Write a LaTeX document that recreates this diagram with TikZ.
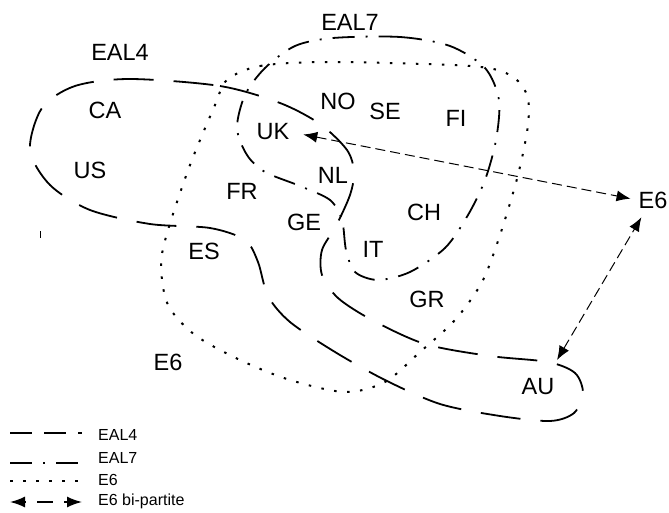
\documentclass[tikz,border=0pt]{standalone}
\usepackage{fontspec}
\setmainfont{Liberation Sans}
\usetikzlibrary{arrows.meta}

\begin{document}
\begin{tikzpicture}[x=1pt, y=-1pt,
    eal4/.style={line width=1.8pt, dash pattern=on 40pt off 20pt},
    eal7/.style={line width=1.8pt, dash pattern=on 22pt off 11pt on 2pt off 11pt},
    e6/.style={line width=2pt, dash pattern=on 2.5pt off 10.5pt},
    bip/.style={<->, >={Latex[length=14pt,width=11pt]}, line width=1pt, dash pattern=on 10pt off 5pt},
    lbl/.style={font=\fontsize{23.5}{26}\selectfont, inner sep=1pt},
    leg/.style={font=\fontsize{16}{18}\selectfont, anchor=west, inner sep=0pt}]
    \useasboundingbox (0,0) rectangle (669,513);

    % EAL4 region (two lobes joined round to AU)
    \draw[eal4] plot[smooth cycle] coordinates {
        (130,79) (220,86) (280,103) (320,124) (347,150) (354,172) (350,195)
        (336,226) (322,250) (322,275) (338,298) (372,320) (425,344) (490,356)
        (548,362) (575,373) (583,393) (574,413) (550,421) (500,416) (440,404)
        (385,380) (335,352) (290,322) (268,296) (258,262) (245,240) (210,228)
        (150,224) (90,210) (50,185) (30,150) (42,108) (75,86)};

    % EAL7 region
    \draw[eal7] plot[smooth cycle] coordinates {
        (333,38) (400,37) (450,46) (485,68) (499,100) (496,140) (485,180)
        (468,215) (445,248) (410,272) (378,280) (355,272) (346,250) (342,220)
        (330,200) (300,186) (265,172) (247,155) (237,128) (245,95) (265,68) (295,46)};

    % E6 region
    \draw[e6] plot[smooth cycle] coordinates {
        (227,80) (260,66) (330,62) (470,66) (510,75) (527,95) (528,125)
        (518,175) (500,235) (482,282) (455,320) (420,352) (385,382) (345,392)
        (290,380) (240,360) (195,335) (168,305) (161,265) (168,230) (190,165) (215,105)};

    \draw[line width=1pt] (40,231) -- (40,238);

    % labels
    \node[lbl] (eal4) at (120,52) {EAL4};
    \node[lbl] (eal7) at (350,22) {EAL7};
    \node[lbl] (ca) at (105,110) {CA};
    \node[lbl] (us) at (90,170) {US};
    \node[lbl] (uk) at (273,132) {UK};
    \node[lbl] (no) at (338,101) {NO};
    \node[lbl] (se) at (385,111) {SE};
    \node[lbl] (fi) at (456,118) {FI};
    \node[lbl] (fr) at (242,191) {FR};
    \node[lbl] (nl) at (333,175) {NL};
    \node[lbl] (ge) at (304,222) {GE};
    \node[lbl] (ch) at (424,212) {CH};
    \node[lbl] (it) at (373,249) {IT};
    \node[lbl] (es) at (204,251) {ES};
    \node[lbl] (gr) at (427,299) {GR};
    \node[lbl] (au) at (538,387) {AU};
    \node[lbl] (e6) at (168,362) {E6};
    \node[lbl] (e6r) at (653,200) {E6};

    % bi-partite links
    \coordinate (au-top) at (557,360);
    \draw[bip, shorten <=13pt, shorten >=7pt] (uk.east) -- (e6r.west);
    \draw[bip, shorten >=9pt] (au-top) -- ([xshift=-7pt]e6r.south);

    % key
    \node[leg] (k-eal4) at (98,435) {EAL4};
    \node[leg] (k-eal7) at (98,458) {EAL7};
    \node[leg] (k-e6) at (98,480) {E6};
    \node[leg] (k-bip) at (98,501) {E6 bi-partite};
    \draw[eal4, dash pattern=on 22pt off 12pt] (10,433) -- (82,433);
    \draw[eal7] (10,463) -- (78,463);
    \draw[e6] (10,481) -- (82,481);
    \draw[bip, line width=1.6pt, >={Latex[length=15pt,width=11pt]},
        dash pattern=on 2pt off 11pt on 16pt off 11pt on 6pt] (10,502) -- (82,502);
\end{tikzpicture}
\end{document}
